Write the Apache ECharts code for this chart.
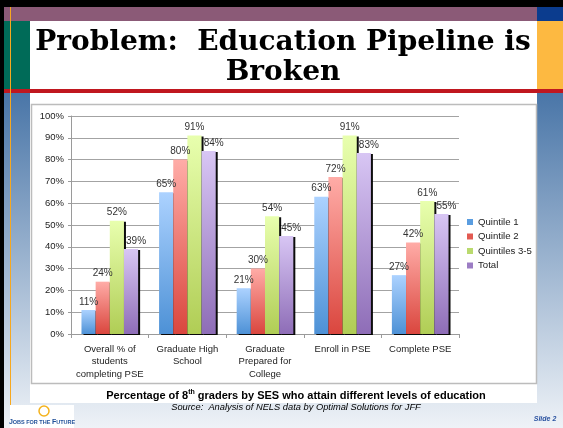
<!DOCTYPE html>
<html>
<head>
<meta charset="utf-8">
<script src="https://cdn.jsdelivr.net/npm/echarts@6/dist/echarts.min.js"></script>
<style>html,body{margin:0;padding:0;background:#fff}#c{width:563px;height:428px}</style>
</head>
<body>
<div id="c"></div>
<script>
var categories = ['Overall % of\nstudents\ncompleting PSE', 'Graduate High\nSchool', 'Graduate\nPrepared for\nCollege', 'Enroll in PSE', 'Complete PSE'];
var seriesNames = ['Quintile 1', 'Quintile 2', 'Quintiles 3-5', 'Total'];
var quintile1 = [11, 65, 21, 63, 27];
var quintile2 = [24, 80, 30, 72, 42];
var quintiles35 = [52, 91, 54, 91, 61];
var total = [39, 84, 45, 83, 55];
var yTicks = [0, 10, 20, 30, 40, 50, 60, 70, 80, 90, 100];

var colorsTop = ['#acd2ff', '#ffaca7', '#e8ffae', '#d8c6f4'];
var colorsBottom = ['#4d91d6', '#da463e', '#b0cd55', '#8e6db7'];
var legendColors = ['#5a9de0', '#e25a52', '#bada6e', '#9c7dc4'];

function grad(i) {
  return new echarts.graphic.LinearGradient(0, 0, 0, 1, [
    {offset: 0, color: colorsTop[i]}, {offset: 1, color: colorsBottom[i]}
  ]);
}

var dataSets = [quintile1, quintile2, quintiles35, total];
var series = dataSets.map(function (d, i) {
  return {
    name: seriesNames[i],
    type: 'bar',
    data: d,
    barGap: '0%',
    barCategoryGap: '27%',
    itemStyle: {
      color: grad(i),
      shadowColor: 'rgba(0,0,0,0.95)',
      shadowOffsetX: 2,
      shadowOffsetY: 1,
      shadowBlur: 0
    },
    emphasis: {disabled: true},
    label: {
      show: true,
      position: 'top',
      distance: 3,
      offset: i === 3 ? [5, 0] : [0, 0],
      formatter: '{c}%',
      fontFamily: 'Liberation Sans, Arial, sans-serif',
      fontSize: 10,
      color: '#333'
    }
  };
});

var chart = echarts.init(document.getElementById('c'), null, {renderer: 'canvas'});
chart.setOption({
  animation: false,
  backgroundColor: new echarts.graphic.LinearGradient(0, 0, 0, 1, [
    {offset: 0, color: '#3f6a9c'}, {offset: 0.22, color: '#4a76a8'}, {offset: 1, color: '#eef2f7'}
  ]),
  graphic: [
    {type: 'rect', z: -20, shape: {x: 0, y: 0, width: 563, height: 7}, style: {fill: '#000'}},
    {type: 'rect', z: -20, shape: {x: 0, y: 0, width: 4, height: 428}, style: {fill: '#000'}},
    {type: 'rect', z: -20, shape: {x: 4, y: 7, width: 533, height: 14}, style: {fill: '#8b5a77'}},
    {type: 'rect', z: -20, shape: {x: 537, y: 7, width: 26, height: 14}, style: {fill: '#0b3c8e'}},
    {type: 'rect', z: -20, shape: {x: 4, y: 21, width: 26, height: 68}, style: {fill: '#006b58'}},
    {type: 'rect', z: -20, shape: {x: 537, y: 21, width: 26, height: 68}, style: {fill: '#fdb941'}},
    {type: 'rect', z: -20, shape: {x: 30, y: 21, width: 507, height: 68}, style: {fill: '#fff'}},
    {type: 'rect', z: -20, shape: {x: 4, y: 89, width: 559, height: 4}, style: {fill: '#c0171f'}},
    {type: 'rect', z: -20, shape: {x: 30, y: 93, width: 507, height: 310}, style: {fill: '#fff'}},
    {type: 'rect', z: -19, shape: {x: 31.5, y: 104.5, width: 505, height: 279}, style: {fill: '#fff', stroke: '#bcbcbc', lineWidth: 1.5}},
    {type: 'line', z: -18, shape: {x1: 10.5, y1: 7, x2: 10.5, y2: 415}, style: {stroke: '#f7a81f', lineWidth: 1}},
    {type: 'text', z: 10, style: {
      text: 'Problem:  Education Pipeline is\nBroken',
      x: 283, y: 58, align: 'center', verticalAlign: 'middle',
      font: 'bold 28px "DejaVu Serif", serif',
      lineHeight: 30, fill: '#000',
      shadowColor: 'rgba(0,0,0,0.3)', shadowOffsetX: 1, shadowOffsetY: 1, shadowBlur: 1
    }},
    {type: 'text', z: 10, style: {
      text: '{a|Percentage of 8}{s|th}{a| graders by SES who attain different levels of education}',
      x: 296, y: 395, align: 'center', verticalAlign: 'middle',
      rich: {
        a: {fontFamily: 'Liberation Sans, Arial, sans-serif', fontWeight: 'bold', fontSize: 11, fill: '#000', verticalAlign: 'bottom'},
        s: {fontFamily: 'Liberation Sans, Arial, sans-serif', fontWeight: 'bold', fontSize: 7, fill: '#000', verticalAlign: 'top', padding: [0, 0, 5, 0]}
      }
    }},
    {type: 'text', z: 10, style: {
      text: 'Source:  Analysis of NELS data by Optimal Solutions for JFF',
      x: 296, y: 407, align: 'center', verticalAlign: 'middle',
      font: 'italic 9.3px "Liberation Sans", Arial, sans-serif', fill: '#000'
    }},
    {type: 'rect', z: -15, shape: {x: 10, y: 405, width: 64, height: 23}, style: {fill: '#fff'}},
    {type: 'circle', z: 5, shape: {cx: 44, cy: 411, r: 5}, style: {fill: 'none', stroke: '#f4b21c', lineWidth: 1.5}},
    {type: 'text', z: 5, style: {
      text: '{b|J}{s|OBS FOR THE }{b|F}{s|UTURE}',
      x: 42, y: 422, align: 'center', verticalAlign: 'middle',
      rich: {
        b: {fontFamily: 'Liberation Sans, Arial, sans-serif', fontWeight: 'bold', fontSize: 7, fill: '#1f4f98'},
        s: {fontFamily: 'Liberation Sans, Arial, sans-serif', fontWeight: 'bold', fontSize: 5.5, fill: '#1f4f98'}
      }
    }},
    {type: 'text', z: 5, style: {
      text: 'Slide 2', x: 545, y: 419, align: 'center', verticalAlign: 'middle',
      font: 'italic bold 7px "Liberation Sans", Arial, sans-serif', fill: '#2a52a0'
    }}
  ],
  grid: {left: 71, right: 104, top: 116, bottom: 94, containLabel: false},
  legend: {
    orient: 'vertical',
    left: 467, top: 217, padding: 0,
    itemWidth: 6, itemHeight: 6, itemGap: 4.5,
    icon: 'rect',
    data: seriesNames.map(function (n, i) { return {name: n, itemStyle: {color: legendColors[i], shadowBlur: 0, shadowOffsetX: 0, shadowOffsetY: 0, shadowColor: 'transparent'}}; }),
    textStyle: {fontFamily: 'Liberation Sans, Arial, sans-serif', fontSize: 9.6, color: '#222'}
  },
  xAxis: {
    type: 'category',
    data: categories,
    axisLine: {lineStyle: {color: '#9a9a9a', width: 1}},
    axisTick: {show: true, length: 4, lineStyle: {color: '#9a9a9a'}},
    axisLabel: {fontFamily: 'Liberation Sans, Arial, sans-serif', fontSize: 9.5, color: '#222', lineHeight: 12.5, margin: 9, interval: 0}
  },
  yAxis: {
    type: 'value',
    min: 0, max: 100, interval: 10,
    axisLine: {show: true, lineStyle: {color: '#9a9a9a', width: 1}},
    axisTick: {show: true, length: 3, lineStyle: {color: '#9a9a9a'}},
    splitLine: {lineStyle: {color: '#a3a3a3', width: 1}},
    axisLabel: {
      fontFamily: 'Liberation Sans, Arial, sans-serif', fontSize: 9.5, color: '#222', margin: 7,
      formatter: function (v) { return yTicks.indexOf(v) >= 0 ? v + '%' : ''; }
    }
  },
  series: series
});
</script>
</body>
</html>
